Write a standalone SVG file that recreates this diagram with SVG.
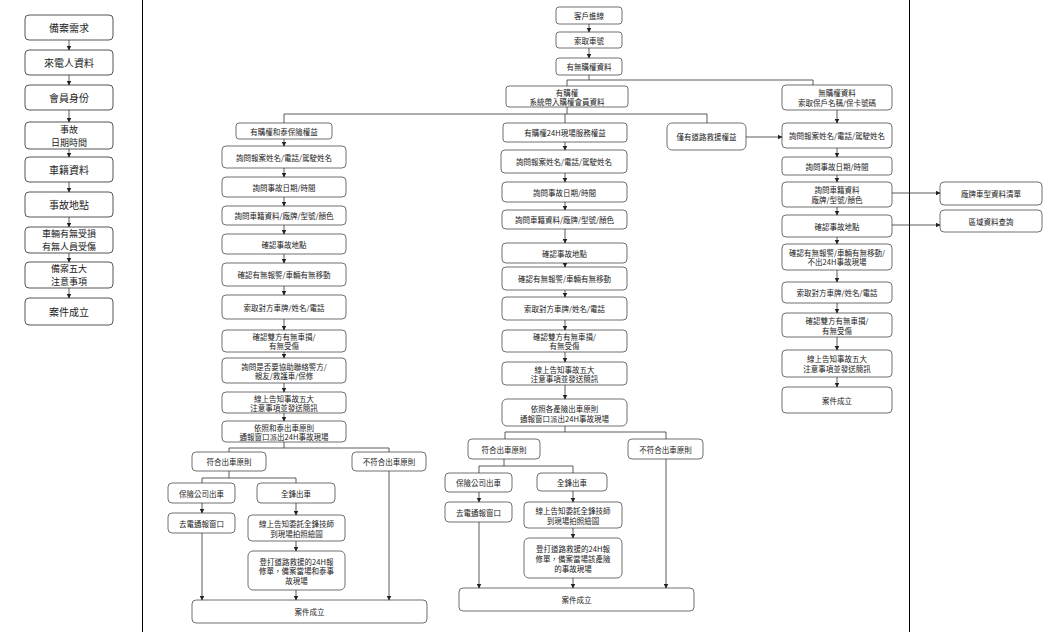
<svg xmlns="http://www.w3.org/2000/svg" width="1061" height="632" viewBox="0 0 1061 632">
<defs>
<marker id="ah" markerWidth="5" markerHeight="5" refX="4.5" refY="2.5" orient="auto" markerUnits="userSpaceOnUse">
<path d="M0,0 L5,2.5 L0,5 z" fill="#222"/>
</marker>
<style>
.n rect{fill:#fff;stroke:#707070;stroke-width:1}
.c rect{fill:#fff;stroke:#555;stroke-width:1}
.n text{font-family:"Noto Sans CJK TC","Noto Sans CJK SC",sans-serif;font-size:7.5px;fill:#222;text-anchor:middle;dominant-baseline:central}
.c text{font-family:"Noto Sans CJK TC","Noto Sans CJK SC",sans-serif;font-size:10px;fill:#222;text-anchor:middle;dominant-baseline:central}
.c text.s{font-size:9px}
.e path,.e line{fill:none;stroke:#333;stroke-width:0.8}
.e .a{marker-end:url(#ah)}
.b{stroke:#000;stroke-width:1}
</style>
</defs>
<rect x="0" y="0" width="1061" height="632" fill="#fff"/>
<line class="b" x1="142.5" y1="0" x2="142.5" y2="632"/>
<line class="b" x1="909.5" y1="0" x2="909.5" y2="632"/>

<!-- left column -->
<g id="c1" class="c"><rect x="25" y="15" width="88" height="25" rx="4"/><text x="69" y="27.5">備案需求</text></g>
<g id="c2" class="c"><rect x="25" y="50" width="88" height="25" rx="4"/><text x="69" y="62.5">來電人資料</text></g>
<g id="c3" class="c"><rect x="25" y="85" width="88" height="25" rx="4"/><text x="69" y="97.5">會員身份</text></g>
<g id="c4" class="c"><rect x="25" y="122" width="88" height="27" rx="4"/><text class="s" x="69" y="129">事故</text><text class="s" x="69" y="142">日期時間</text></g>
<g id="c5" class="c"><rect x="25" y="157" width="88" height="25" rx="4"/><text x="69" y="169.5">車籍資料</text></g>
<g id="c6" class="c"><rect x="25" y="192" width="88" height="25" rx="4"/><text x="69" y="204.5">事故地點</text></g>
<g id="c7" class="c"><rect x="25" y="227" width="88" height="26" rx="4"/><text class="s" x="69" y="233.5">車輛有無受損</text><text class="s" x="69" y="246.5">有無人員受傷</text></g>
<g id="c8" class="c"><rect x="25" y="262" width="88" height="26" rx="4"/><text class="s" x="69" y="268.5">備案五大</text><text class="s" x="69" y="281.5">注意事項</text></g>
<g id="c9" class="c"><rect x="25" y="298" width="88" height="27" rx="4"/><text x="69" y="311.5">案件成立</text></g>

<!-- top -->
<g id="t1" class="n"><rect x="556" y="7" width="66" height="17" rx="3"/><text x="589" y="15.5">客戶進線</text></g>
<g id="t2" class="n"><rect x="556" y="32" width="66" height="16" rx="3"/><text x="589" y="40">索取車號</text></g>
<g id="t3" class="n"><rect x="556" y="58" width="66" height="17" rx="3"/><text x="589" y="66.5">有無購權資料</text></g>
<g id="t4" class="n"><rect x="506" y="86" width="122" height="21" rx="3"/><text x="567" y="92">有購權</text><text x="567" y="101">系統帶入購權會員資料</text></g>

<!-- left branch -->
<g id="l1" class="n"><rect x="236" y="123" width="96" height="16" rx="3"/><text x="284" y="131">有購權和泰保險權益</text></g>
<g id="l2" class="n"><rect x="222" y="146" width="124" height="22" rx="4"/><text x="284" y="157">詢問報案姓名/電話/駕駛姓名</text></g>
<g id="l3" class="n"><rect x="222" y="177" width="124" height="20" rx="4"/><text x="284" y="187">詢問事故日期/時間</text></g>
<g id="l4" class="n"><rect x="222" y="206" width="124" height="19" rx="4"/><text x="284" y="215.5">詢問車籍資料/廠牌/型號/顏色</text></g>
<g id="l5" class="n"><rect x="222" y="234" width="124" height="20" rx="4"/><text x="284" y="244">確認事故地點</text></g>
<g id="l6" class="n"><rect x="222" y="263" width="124" height="23" rx="4"/><text x="284" y="274.5">確認有無報警/車輛有無移動</text></g>
<g id="l7" class="n"><rect x="222" y="295" width="124" height="24" rx="4"/><text x="284" y="307">索取對方車牌/姓名/電話</text></g>
<g id="l8" class="n"><rect x="222" y="330" width="124" height="22" rx="4"/><text x="284" y="336.5">確認雙方有無車損/</text><text x="284" y="345.5">有無受傷</text></g>
<g id="l9" class="n"><rect x="222" y="358" width="124" height="25" rx="4"/><text x="284" y="366">詢問是否要協助聯絡警方/</text><text x="284" y="375.5">親友/救護車/保修</text></g>
<g id="l10" class="n"><rect x="222" y="392" width="124" height="21" rx="4"/><text x="284" y="398">線上告知事故五大</text><text x="284" y="407.5">注意事項並發送簡訊</text></g>
<g id="l11" class="n"><rect x="222" y="421" width="124" height="21" rx="4"/><text x="284" y="427">依照和泰出車原則</text><text x="284" y="436.5">通報窗口派出24H事故現場</text></g>
<g id="l12" class="n"><rect x="192" y="452" width="74" height="19" rx="4"/><text x="229" y="461.5">符合出車原則</text></g>
<g id="l13" class="n"><rect x="352" y="452" width="74" height="19" rx="4"/><text x="389" y="461.5">不符合出車原則</text></g>
<g id="l14" class="n"><rect x="168" y="483" width="67" height="20" rx="4"/><text x="201.5" y="493">保險公司出車</text></g>
<g id="l15" class="n"><rect x="257" y="483" width="78" height="20" rx="4"/><text x="296" y="493">全鋒出車</text></g>
<g id="l16" class="n"><rect x="168" y="513" width="67" height="20" rx="4"/><text x="201.5" y="523">去電通報窗口</text></g>
<g id="l17" class="n"><rect x="248" y="515" width="97" height="26" rx="4"/><text x="296.5" y="523.5">線上告知委託全鋒技師</text><text x="296.5" y="533">到現場拍照繪圖</text></g>
<g id="l18" class="n"><rect x="248" y="551" width="97" height="39" rx="5"/><text x="296.5" y="561">登打道路救援的24H報</text><text x="296.5" y="570.5">修單，備案當場和泰事</text><text x="296.5" y="580">故現場</text></g>
<g id="l19" class="n"><rect x="192" y="600" width="235" height="23" rx="4"/><text x="309.5" y="611.5">案件成立</text></g>

<!-- middle branch -->
<g id="m1" class="n"><rect x="503" y="123" width="124" height="19" rx="3"/><text x="565" y="132.5">有購權24H現場服務權益</text></g>
<g id="m2" class="n"><rect x="501" y="150" width="126" height="23" rx="4"/><text x="564" y="161.5">詢問報案姓名/電話/駕駛姓名</text></g>
<g id="m3" class="n"><rect x="502" y="182" width="125" height="20" rx="4"/><text x="564.5" y="192">詢問事故日期/時間</text></g>
<g id="m4" class="n"><rect x="502" y="210" width="125" height="19" rx="4"/><text x="564.5" y="219.5">詢問車籍資料/廠牌/型號/顏色</text></g>
<g id="m5" class="n"><rect x="502" y="243" width="125" height="20" rx="4"/><text x="564.5" y="253">確認事故地點</text></g>
<g id="m6" class="n"><rect x="502" y="267" width="125" height="23" rx="4"/><text x="564.5" y="278.5">確認有無報警/車輛有無移動</text></g>
<g id="m7" class="n"><rect x="502" y="297" width="125" height="23" rx="4"/><text x="564.5" y="308.5">索取對方車牌/姓名/電話</text></g>
<g id="m8" class="n"><rect x="502" y="330" width="125" height="22" rx="4"/><text x="564.5" y="336.5">確認雙方有無車損/</text><text x="564.5" y="345.5">有無受傷</text></g>
<g id="m9" class="n"><rect x="502" y="362" width="125" height="23" rx="4"/><text x="564.5" y="369">線上告知事故五大</text><text x="564.5" y="378.5">注意事項並發送簡訊</text></g>
<g id="m10" class="n"><rect x="502" y="399" width="125" height="27" rx="5"/><text x="564.5" y="408">依照各產險出車原則</text><text x="564.5" y="418">通報窗口派出24H事故現場</text></g>
<g id="m11" class="n"><rect x="468" y="439" width="72" height="20" rx="4"/><text x="504" y="449">符合出車原則</text></g>
<g id="m12" class="n"><rect x="628" y="439" width="75" height="20" rx="4"/><text x="665.5" y="449">不符合出車原則</text></g>
<g id="m13" class="n"><rect x="445" y="473" width="67" height="19" rx="4"/><text x="478.5" y="482.5">保險公司出車</text></g>
<g id="m14" class="n"><rect x="537" y="473" width="70" height="18" rx="4"/><text x="572" y="482">全鋒出車</text></g>
<g id="m15" class="n"><rect x="445" y="502" width="67" height="20" rx="4"/><text x="478.5" y="512">去電通報窗口</text></g>
<g id="m16" class="n"><rect x="524" y="502" width="98" height="26" rx="4"/><text x="573" y="510.5">線上告知委託全鋒技師</text><text x="573" y="520">到現場拍照繪圖</text></g>
<g id="m17" class="n"><rect x="524" y="538" width="98" height="40" rx="5"/><text x="573" y="548">登打道路救援的24H報</text><text x="573" y="558">修單，備案當場該產險</text><text x="573" y="568">的事故現場</text></g>
<g id="m18" class="n"><rect x="459" y="588" width="235" height="23" rx="4"/><text x="576.5" y="599.5">案件成立</text></g>

<!-- right branch -->
<g id="r0" class="n"><rect x="667" y="123" width="79" height="27" rx="5"/><text x="706.5" y="136.5">僅有道路救援權益</text></g>
<g id="r1" class="n"><rect x="782" y="85" width="110" height="25" rx="4"/><text x="837" y="92.5">無購權資料</text><text x="837" y="102">索取保戶名稱/保卡號碼</text></g>
<g id="r2" class="n"><rect x="782" y="123" width="110" height="25" rx="4"/><text x="837" y="135.5">詢問報案姓名/電話/駕駛姓名</text></g>
<g id="r3" class="n"><rect x="782" y="157" width="110" height="18" rx="3"/><text x="837" y="166">詢問事故日期/時間</text></g>
<g id="r4" class="n"><rect x="782" y="182" width="110" height="25" rx="4"/><text x="837" y="189.5">詢問車籍資料</text><text x="837" y="199">廠牌/型號/顏色</text></g>
<g id="r5" class="n"><rect x="782" y="215" width="110" height="22" rx="4"/><text x="837" y="226">確認事故地點</text></g>
<g id="r6" class="n"><rect x="782" y="244" width="110" height="26" rx="4"/><text x="837" y="252">確認有無報警/車輛有無移動/</text><text x="837" y="261.5">不出24H事故現場</text></g>
<g id="r7" class="n"><rect x="782" y="282" width="110" height="21" rx="4"/><text x="837" y="292.5">索取對方車牌/姓名/電話</text></g>
<g id="r8" class="n"><rect x="782" y="313" width="110" height="24" rx="4"/><text x="837" y="320.5">確認雙方有無車損/</text><text x="837" y="330">有無受傷</text></g>
<g id="r9" class="n"><rect x="782" y="350" width="110" height="27" rx="4"/><text x="837" y="358.5">線上告知事故五大</text><text x="837" y="368.5">注意事項並發送簡訊</text></g>
<g id="r10" class="n"><rect x="782" y="387" width="110" height="26" rx="4"/><text x="837" y="400">案件成立</text></g>
<g id="r11" class="n"><rect x="940" y="182" width="102" height="23" rx="4"/><text x="991" y="193.5">廠牌車型資料清單</text></g>
<g id="r12" class="n"><rect x="940" y="210" width="102" height="22" rx="4"/><text x="991" y="221">區域資料查詢</text></g>

<g id="connectors" class="e">
<!-- left column -->
<line class="a" x1="69" y1="40" x2="69" y2="50"/>
<line class="a" x1="69" y1="75" x2="69" y2="85"/>
<line class="a" x1="69" y1="110" x2="69" y2="122"/>
<line class="a" x1="69" y1="149" x2="69" y2="157"/>
<line class="a" x1="69" y1="182" x2="69" y2="192"/>
<line class="a" x1="69" y1="217" x2="69" y2="227"/>
<line class="a" x1="69" y1="253" x2="69" y2="262"/>
<line class="a" x1="69" y1="288" x2="69" y2="298"/>
<!-- top -->
<line class="a" x1="589" y1="24" x2="589" y2="32"/>
<line class="a" x1="589" y1="48" x2="589" y2="58"/>
<path d="M589,75 V80 M567,86 V80 H813 V85"/>
<path d="M567,107 V114 M284,123 V114 H707 V123 M565,114 V123"/>
<!-- left branch -->
<line class="a" x1="284" y1="139" x2="284" y2="146"/>
<line class="a" x1="284" y1="168" x2="284" y2="177"/>
<line class="a" x1="284" y1="197" x2="284" y2="206"/>
<line class="a" x1="284" y1="225" x2="284" y2="234"/>
<line class="a" x1="284" y1="254" x2="284" y2="263"/>
<line class="a" x1="284" y1="286" x2="284" y2="295"/>
<line class="a" x1="284" y1="319" x2="284" y2="330"/>
<line class="a" x1="284" y1="352" x2="284" y2="358"/>
<line class="a" x1="284" y1="383" x2="284" y2="392"/>
<line class="a" x1="284" y1="413" x2="284" y2="421"/>
<path d="M284,442 V448 M229,452 V448 H389 V452"/>
<path d="M229,471 V478 M202,483 V478 H296 V483"/>
<line class="a" x1="202" y1="503" x2="202" y2="513"/>
<line class="a" x1="296" y1="503" x2="296" y2="515"/>
<line class="a" x1="296" y1="541" x2="296" y2="551"/>
<line class="a" x1="202" y1="533" x2="202" y2="600"/>
<line class="a" x1="296" y1="590" x2="296" y2="600"/>
<line class="a" x1="389" y1="471" x2="389" y2="600"/>
<!-- middle branch -->
<line class="a" x1="565" y1="142" x2="565" y2="150"/>
<line class="a" x1="565" y1="173" x2="565" y2="182"/>
<line class="a" x1="565" y1="202" x2="565" y2="210"/>
<line class="a" x1="565" y1="229" x2="565" y2="243"/>
<line class="a" x1="565" y1="263" x2="565" y2="267"/>
<line class="a" x1="565" y1="290" x2="565" y2="297"/>
<line class="a" x1="565" y1="320" x2="565" y2="330"/>
<line class="a" x1="565" y1="352" x2="565" y2="362"/>
<line class="a" x1="565" y1="385" x2="565" y2="399"/>
<path d="M565,426 V432 M505,439 V432 H666 V439"/>
<path d="M504,459 V466 M479,473 V466 H573 V473"/>
<line class="a" x1="479" y1="492" x2="479" y2="502"/>
<line class="a" x1="573" y1="491" x2="573" y2="502"/>
<line class="a" x1="573" y1="528" x2="573" y2="538"/>
<line class="a" x1="479" y1="522" x2="479" y2="588"/>
<line class="a" x1="573" y1="578" x2="573" y2="588"/>
<line class="a" x1="666" y1="459" x2="666" y2="588"/>
<!-- right branch -->
<line class="a" x1="746" y1="137" x2="782" y2="137"/>
<line class="a" x1="837" y1="110" x2="837" y2="123"/>
<line class="a" x1="837" y1="148" x2="837" y2="157"/>
<line class="a" x1="837" y1="175" x2="837" y2="182"/>
<line class="a" x1="837" y1="207" x2="837" y2="215"/>
<line class="a" x1="837" y1="237" x2="837" y2="244"/>
<line class="a" x1="837" y1="270" x2="837" y2="282"/>
<line class="a" x1="837" y1="303" x2="837" y2="313"/>
<line class="a" x1="837" y1="337" x2="837" y2="350"/>
<line class="a" x1="837" y1="377" x2="837" y2="387"/>
<line class="a" x1="892" y1="193" x2="940" y2="193"/>
<line class="a" x1="892" y1="225" x2="940" y2="225"/>
</g>
</svg>
